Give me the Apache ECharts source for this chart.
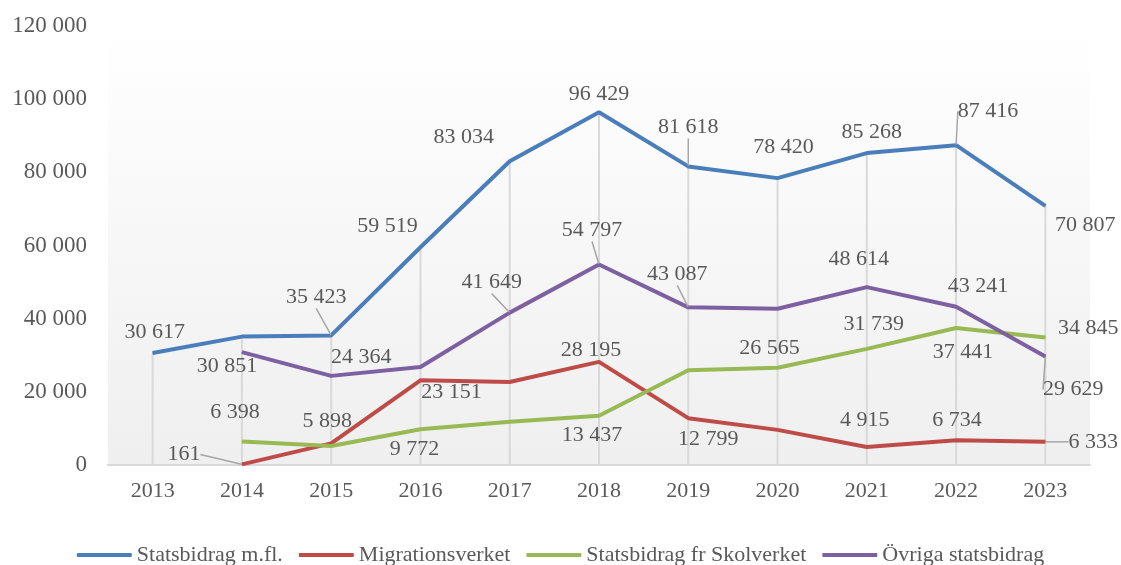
<!DOCTYPE html>
<html>
<head>
<meta charset="utf-8">
<title>Statsbidrag</title>
<script src="https://cdn.jsdelivr.net/npm/echarts@6/dist/echarts.min.js"></script>
<style>
  html, body { margin: 0; padding: 0; background: #fff; }
  #chart { width: 1121px; height: 565px; }
</style>
</head>
<body>
<div id="chart"></div>
<script>
// data (unlabelled points are estimates)
const years = ['2013', '2014', '2015', '2016', '2017', '2018', '2019', '2020', '2021', '2022', '2023']
const statsbidrag = [30617, 35100, 35423, 59519, 83034, 96429, 81618, 78420, 85268, 87416, 70807]
const migrationsverket = [null, 161, 5898, 23151, 22700, 28195, 12799, 9600, 4915, 6734, 6333]
const skolverket = [null, 6398, 5200, 9772, 11800, 13437, 25900, 26565, 31739, 37441, 34845]
const ovriga = [null, 30851, 24364, 26800, 41649, 54797, 43087, 42700, 48614, 43241, 29629]
const seriesNames = ['Statsbidrag m.fl.', 'Migrationsverket', 'Statsbidrag fr Skolverket', 'Övriga statsbidrag']

// where each data label sits relative to its point: [dx, dy, leaderLine]
const labelShift = [
  [[2, -21], null, [-15, -38, 1], [-33, -21], [-46, -24], [0, -18], [0, -39, 1], [6, -31], [5, -21], [32, -34, 1], [40, 19]],
  [null, [-58, -10, 1], [-4, -22], [31, 12], null, [-8, -12], [20, 21], null, [-2, -27], [1, -20], [48, 0, 1]],
  [null, [-7, -29], null, [-6, 20], null, [-7, 19], null, [-8, -20], [7, -25], [7, 24], [43, -9]],
  [null, [-15, 14], [30, -19], null, [-18, -30, 1], [-7, -34, 1], [-11, -33, 1], null, [-8, -28], [22, -21], [28, 33, 1]]
]
const colors = ['#4a7ebb', '#be4b48', '#98b954', '#7d60a0']
const textColor = '#595959'
const font = 'Liberation Serif'

function fmt(v) {
  return String(v).replace(/\B(?=(\d{3})+(?!\d))/g, ' ')
}

const allData = [statsbidrag, migrationsverket, skolverket, ovriga]

// drop lines go from the axis up to the highest point of each year
const dropTop = years.map((y, i) => Math.max(...allData.map(d => d[i] || 0)))

const lineSeries = allData.map((arr, s) => ({
  name: seriesNames[s],
  type: 'line',
  z: 3,
  symbol: 'circle',
  symbolSize: 1,
  showSymbol: true,
  lineStyle: { width: 4, color: colors[s] },
  itemStyle: { color: colors[s] },
  label: {
    position: 'inside',
    fontFamily: font,
    fontSize: 22,
    color: textColor,
    formatter: p => fmt(p.value)
  },
  labelLine: {
    lineStyle: { color: '#a6a6a6', width: 1.5 }
  },
  labelLayout: function(params) {
    const sh = labelShift[s][params.dataIndex]
    if (!sh) return {}
    return { dx: sh[0], dy: sh[1] }
  },
  data: arr.map((v, i) => {
    const sh = labelShift[s][i]
    return {
      value: v,
      label: { show: !!sh },
      labelLine: { show: !!(sh && sh[2]) }
    }
  })
}))

const option = {
  animation: false,
  backgroundColor: '#fff',
  grid: {
    left: 108,
    right: 31,
    top: 26,
    bottom: 100,
    show: true,
    borderWidth: 0,
    backgroundColor: new echarts.graphic.LinearGradient(0, 0, 0, 1, [
      { offset: 0, color: '#ffffff' },
      { offset: 1, color: '#efefef' }
    ])
  },
  legend: {
    data: seriesNames,
    left: 'center',
    top: 539,
    icon: 'roundRect',
    itemWidth: 55,
    itemHeight: 4,
    itemGap: 16,
    textStyle: { fontFamily: font, fontSize: 22, color: textColor }
  },
  xAxis: {
    type: 'category',
    data: years,
    axisLine: { lineStyle: { color: '#d9d9d9', width: 2 } },
    axisTick: { show: false },
    axisLabel: { fontFamily: font, fontSize: 22, color: textColor, margin: 15 }
  },
  yAxis: {
    type: 'value',
    min: 0,
    max: 120000,
    interval: 20000,
    axisLine: { show: false },
    axisTick: { show: false },
    splitLine: { show: false },
    axisLabel: { fontFamily: font, fontSize: 23, color: textColor, margin: 21, formatter: fmt }
  },
  series: [
    {
      name: 'drop',
      type: 'bar',
      z: 1,
      barWidth: 2,
      itemStyle: { color: '#d9d9d9' },
      silent: true,
      data: dropTop
    }
  ].concat(lineSeries)
}

const chart = echarts.init(document.getElementById('chart'))
chart.setOption(option)
</script>
</body>
</html>
